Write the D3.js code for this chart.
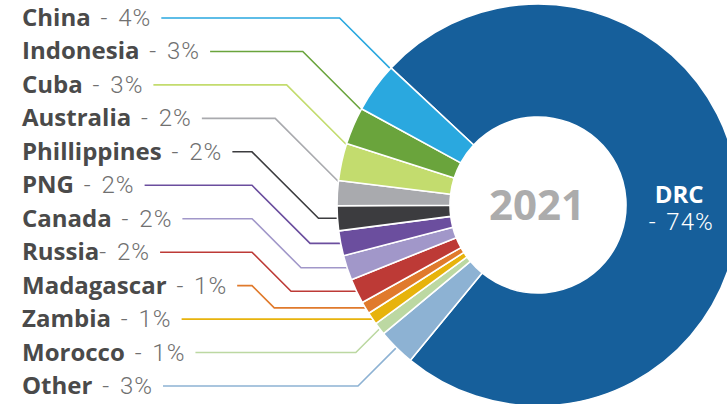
<!DOCTYPE html>
<html>
<head>
<meta charset="utf-8">
<script src="https://cdn.jsdelivr.net/npm/d3@7"></script>
<style>
  body { margin: 0; background: #fff; }
  text { font-family: "Open Sans", sans-serif; }
  .light { font-family: Roboto, "Open Sans", sans-serif; font-weight: 300; letter-spacing: 1px; word-spacing: 3px; }
</style>
</head>
<body>
<div id="chart"></div>
<script>
// data
const year = "2021";
const mainCountry = "DRC";
const mainShare = 74;
const countries = ["China", "Indonesia", "Cuba", "Australia", "Phillippines", "PNG",
                   "Canada", "Russia", "Madagascar", "Zambia", "Morocco", "Other"];
const shares = [4, 3, 3, 2, 2, 2, 2, 2, 1, 1, 1, 3];
const colors = ["#2aa8df", "#6aa43c", "#c3dc6e", "#a9aaae", "#3c3c3f", "#6b4e9e",
                "#a197c9", "#bd3a36", "#e07a2c", "#e7b30c", "#bcd8a2", "#8db2d3"];
const mainColor = "#165f9b";
const tightLabels = ["Russia"]; // printed without a space before the dash

const width = 727, height = 404;
const cx = 538, cy = 205, outerR = 201, innerR = 88;
const deg = Math.PI / 180;

const svg = d3.select('#chart').append('svg')
    .attr('width', width).attr('height', height);

// slices run clockwise: DRC first, then the small ones from the bottom up
const slices = [{name: mainCountry, value: mainShare, color: mainColor}]
    .concat(countries.map((c, i) => ({name: c, value: shares[i], color: colors[i]})).reverse());

const pie = d3.pie().sort(null).value(d => d.value)
    .startAngle(-47 * deg).endAngle(-47 * deg + 2 * Math.PI);
const arcs = pie(slices);
const arcByName = new Map(arcs.map(a => [a.data.name, a]));
const arcGen = d3.arc().innerRadius(innerR).outerRadius(outerR);

const rowY = d3.scalePoint().domain(countries).range([26, 394]);

const labelG = svg.append('g').classed('labels', true);
const lines = svg.append('g').classed('leaders', true);
const chart = svg.append('g').attr('transform', `translate(${cx},${cy})`);

// labels + leader lines
countries.forEach((c, i) => {
  const y = rowY(c);
  const t = labelG.append('text').attr('x', 22).attr('y', y).attr('font-size', 24);
  t.append('tspan').attr('font-weight', 700).attr('fill', '#4a4a4a').text(c);
  t.append('tspan').classed('light', true).attr('fill', '#707070')
    .text((tightLabels.includes(c) ? '' : ' ') + '- ' + shares[i] + '%');

  const lx = 22 + t.node().getBBox().width + 10;
  const ly = y - 8;
  const a = arcByName.get(c);
  const ang = i < 4 ? a.endAngle - 0.3 * deg : (a.startAngle + a.endAngle) / 2;
  const ex = cx + outerR * Math.sin(ang);
  const ey = cy - outerR * Math.cos(ang);
  let pts;
  if (i < 4 || ey <= ly + 1) {
    const bx = ex - Math.abs(ey - ly);
    pts = [[lx, ly], [bx, ly], [ex, ey]];
  } else {
    const bx = 252;
    pts = [[lx, ly], [bx, ly], [bx + (ey - ly), ey], [ex, ey]];
  }
  lines.append('path')
    .attr('d', d3.line()(pts))
    .attr('fill', 'none')
    .attr('stroke', colors[i])
    .attr('stroke-width', 1.6);
});

// donut
chart.selectAll('path.arc').data(arcs).join('path')
    .classed('arc', true)
    .attr('d', arcGen)
    .attr('fill', d => d.data.color)
    .attr('stroke', '#fff')
    .attr('stroke-width', 1.6)
    .attr('stroke-linejoin', 'round');

// centre year
chart.append('text')
    .attr('x', -1).attr('y', 15)
    .attr('text-anchor', 'middle')
    .attr('font-size', 42).attr('font-weight', 700)
    .attr('fill', '#acacac')
    .text(year);

// DRC label
const [dx, dy] = arcGen.centroid(arcByName.get(mainCountry));
const drc = chart.append('text').attr('text-anchor', 'middle').attr('fill', '#fff');
drc.append('tspan').attr('x', dx - 3).attr('y', dy + 8)
    .attr('font-size', 24).attr('font-weight', 700).text(mainCountry);
drc.append('tspan').classed('light', true).attr('x', dx - 1).attr('y', dy + 35)
    .attr('font-size', 24).text('- ' + mainShare + '%');
</script>
</body>
</html>
